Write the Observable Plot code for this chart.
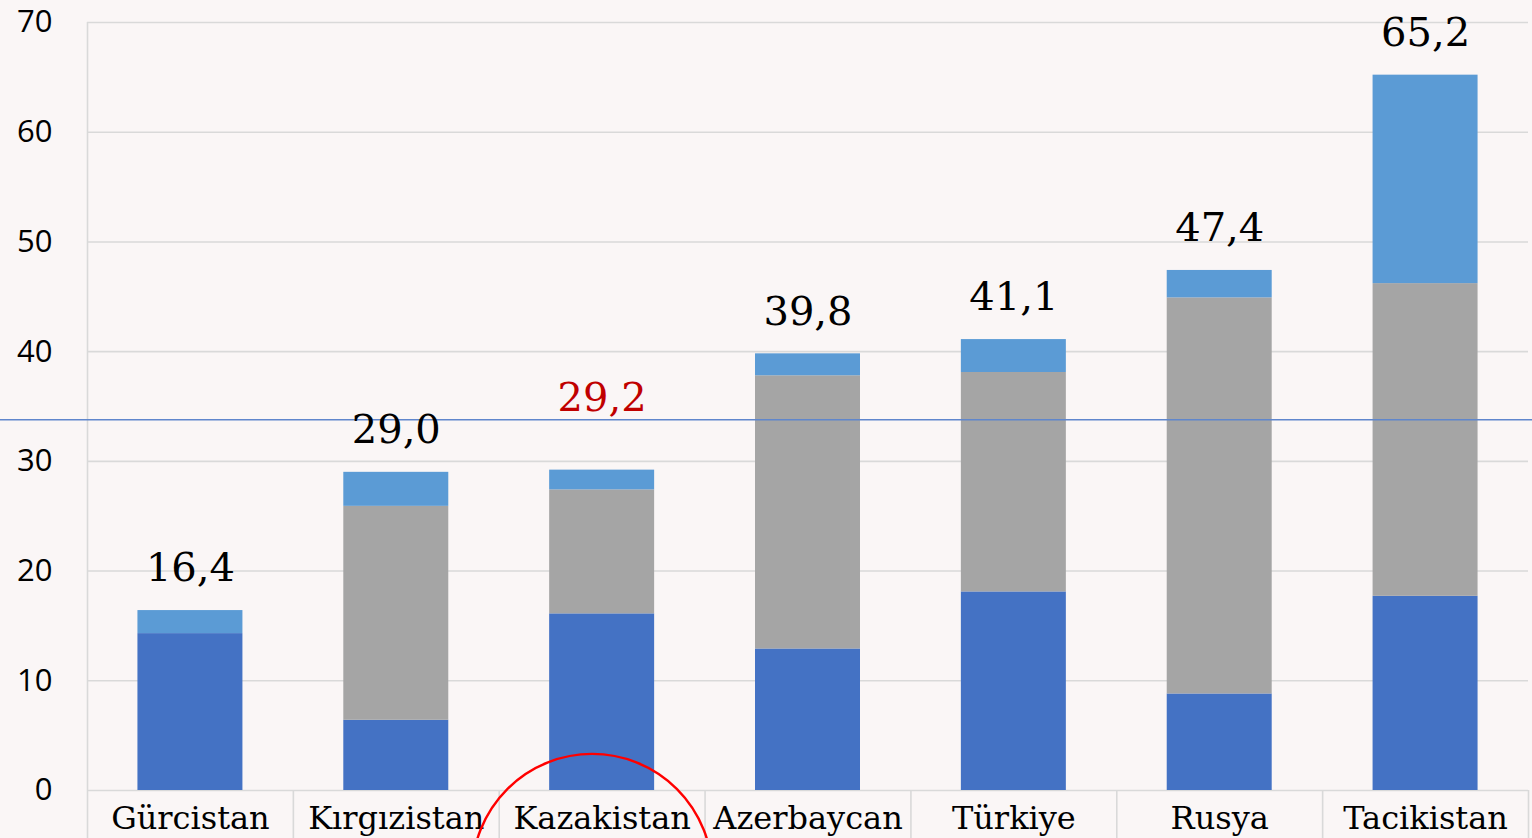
<!DOCTYPE html>
<html>
<head>
<meta charset="utf-8">
<script src="https://cdn.jsdelivr.net/npm/d3@7"></script>
<script src="https://cdn.jsdelivr.net/npm/@observablehq/plot@0.6"></script>
<style>
  html, body { margin: 0; padding: 0; width: 1532px; height: 838px; overflow: hidden; background: #faf6f6; }
  #chart svg { display: block; background: #faf6f6; overflow: visible; }
  g[aria-label^="x-axis"] text { font-family: "DejaVu Serif", serif; font-size: 32px; fill: #000; }
  g[aria-label^="y-axis"] text { font-family: "Open Sans", sans-serif; font-size: 31px; fill: #000; }
</style>
</head>
<body>
<div id="chart"></div>
<script>
// ---- data ----
const countries = ["Gürcistan", "Kırgızistan", "Kazakistan", "Azerbaycan", "Türkiye", "Rusya", "Tacikistan"];
const part1 = [14.3, 6.4, 16.1, 12.9, 18.1, 8.8, 17.7];   // dark blue (bottom)
const part2 = [0, 19.5, 11.3, 24.9, 20.0, 36.1, 28.5];    // gray (middle)
const part3 = [2.1, 3.1, 1.8, 2.0, 3.0, 2.5, 19.0];       // light blue (top)
const totals = [16.4, 29.0, 29.2, 39.8, 41.1, 47.4, 65.2];
const yTicks = [0, 10, 20, 30, 40, 50, 60, 70];
const highlighted = "Kazakistan";
const referenceLine = 33.8;
const seriesNames = ["s1", "s2", "s3"];
const seriesColors = ["#4472C4", "#A5A5A5", "#5B9BD5"];

// ---- tables built from arrays ----
const stacked = [];
countries.forEach((c, i) => {
  stacked.push({country: c, series: "s1", value: part1[i]});
  stacked.push({country: c, series: "s2", value: part2[i]});
  stacked.push({country: c, series: "s3", value: part3[i]});
});
const totalRows = countries.map((c, i) => ({country: c, total: totals[i], label: totals[i].toFixed(1).replace(".", ",")}));
const fmt = d => d;

const W = 1532, H = 838;
const mL = 87, mR = 4, mT = 22, mB = 48;
const step = (W - mL - mR) / countries.length;

const chart = Plot.plot({
  width: W,
  height: H,
  marginTop: mT,
  marginBottom: mB,
  marginLeft: mL,
  marginRight: mR,
  style: {background: "#faf6f6", overflow: "visible"},
  x: {domain: countries, paddingInner: 0.49, paddingOuter: 0.245, round: false, tickSize: 0, tickPadding: 16, label: null},
  y: {domain: [0, 70], ticks: yTicks, tickSize: 0, tickPadding: 35, label: null, tickFormat: fmt},
  color: {domain: seriesNames, range: seriesColors},
  marks: [
    Plot.ruleY(yTicks, {stroke: "#d9d9d9", strokeWidth: 1.6}),
    // left axis line
    Plot.ruleX([countries[0]], {x: d => d, dx: -step / 2, y1: 70, y2: -4.4, stroke: "#d9d9d9", strokeWidth: 1.6}),
    // category separators below the axis
    Plot.ruleX(countries.slice(1), {x: d => d, dx: -step / 2, y1: 0, y2: -4.4, stroke: "#d9d9d9", strokeWidth: 1.6}),
    Plot.ruleX([countries[countries.length - 1]], {x: d => d, dx: step / 2, y1: 0, y2: -4.4, stroke: "#d9d9d9", strokeWidth: 1.6}),
    Plot.barY(stacked, {x: "country", y: "value", fill: "series", order: seriesNames}),
    Plot.ruleY([referenceLine], {stroke: "#5f86cc", strokeWidth: 1.5, insetLeft: -mL, insetRight: -mR}),
    Plot.text(totalRows.filter(d => d.country !== highlighted), {
      x: "country", y: "total", text: "label", dy: -42,
      fontFamily: "DejaVu Serif", fontSize: 40, fill: "#000"
    }),
    Plot.text(totalRows.filter(d => d.country === highlighted), {
      x: "country", y: "total", text: "label", dy: -72,
      fontFamily: "DejaVu Serif", fontSize: 40, fill: "#C00000"
    }),
    Plot.dot([{country: highlighted, v: -7.6}], {x: "country", y: "v", r: 120, dx: -10, fill: "none", stroke: "#ff0000", strokeWidth: 2.4})
  ]
});
document.getElementById("chart").appendChild(chart);
</script>
</body>
</html>
